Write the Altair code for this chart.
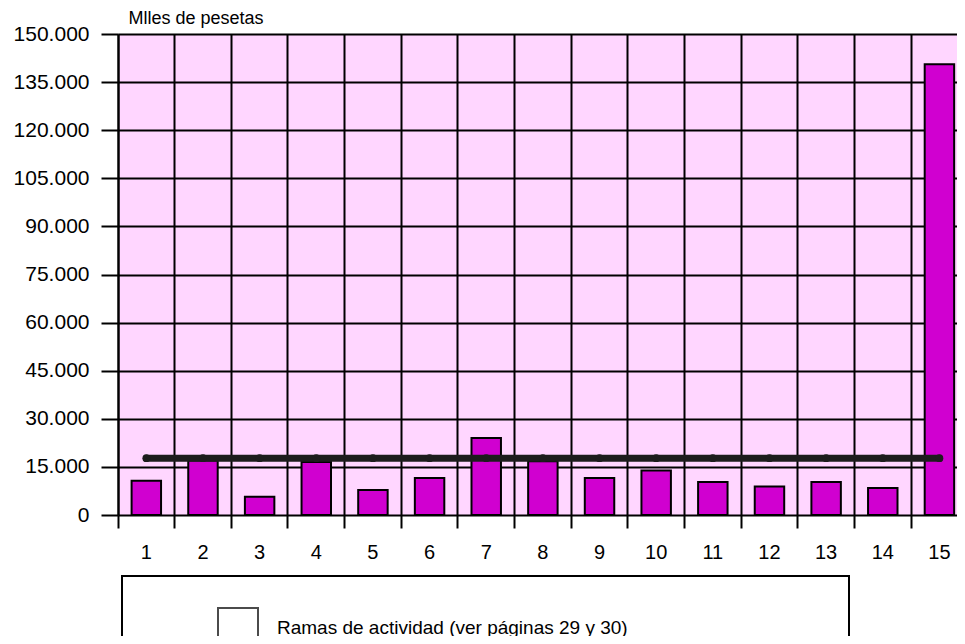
import altair as alt
import pandas as pd

categorias = [str(i) for i in range(1, 16)]
valores = [10700, 17000, 5700, 16500, 7800, 11500, 24000, 16800, 11500, 13900, 10300, 8900, 10300, 8400, 140600]
linea = [17700] * 15
serie = "Ramas de actividad (ver páginas 29 y 30)"

df = pd.DataFrame({"cat": categorias, "valor": valores, "linea": linea, "serie": [serie] * 15})

step = 56.65
W = 839
H = 481

x_enc = alt.X(
    "cat:N",
    sort=categorias,
    scale=alt.Scale(paddingInner=0, paddingOuter=0, range=[0, step * 15]),
    axis=alt.Axis(
        title=None,
        bandPosition=0,
        labelAngle=0,
        labelFontSize=20,
        labelFont="Liberation Sans",
        labelColor="black",
        labelPadding=14,
        tickSize=13,
        tickColor="black",
        tickWidth=2,
        grid=True,
        gridColor="black",
        gridWidth=2,
        domain=False,
    ),
)

y_scale = alt.Scale(domain=[0, 150000], nice=False, zero=True)
y_axis = alt.Axis(
    title="Mlles de pesetas",
    titleAngle=0,
    titleAlign="left",
    titleBaseline="alphabetic",
    titleX=10,
    titleY=-11,
    titleFontSize=18,
    titleFontWeight="normal",
    titleFont="Liberation Sans",
    titleColor="black",
    values=list(range(0, 150001, 15000)),
    labelExpr="replace(format(datum.value, ','), ',', '.')",
    labelFontSize=21,
    labelFont="Liberation Sans",
    labelColor="black",
    labelPadding=12,
    tickSize=17,
    tickColor="black",
    tickWidth=2,
    grid=True,
    gridColor="black",
    gridWidth=2,
    domain=True,
    domainColor="black",
    domainWidth=2,
)

base = alt.Chart(df).encode(x=x_enc)

bars = base.mark_bar(width={"band": 0.52}, fill="#d000d0", stroke="black", strokeWidth=2).encode(
    y=alt.Y("valor:Q", scale=y_scale, axis=y_axis),
)

legend_marks = base.mark_point(shape="square", filled=False, size=16, strokeWidth=1).encode(
    y=alt.Y("linea:Q", scale=y_scale),
    stroke=alt.Stroke(
        "serie:N",
        scale=alt.Scale(range=["black"]),
        legend=alt.Legend(
            title=" ",
            titleOrient="right",
            titlePadding=190,
            orient="none",
            legendX=4,
            legendY=542,
            strokeColor="black",
            fillColor="white",
            padding=31,
            symbolOffset=64,
            symbolType="square",
            symbolSize=1600,
            symbolStrokeColor="black",
            symbolStrokeWidth=2,
            labelFontSize=19,
            labelFont="Liberation Sans",
            labelColor="black",
            labelOffset=18,
            labelLimit=600,
        ),
    ),
)

line = base.mark_line(color="#1c1c1c", strokeWidth=7, strokeCap="round").encode(
    y=alt.Y("linea:Q", scale=y_scale)
)
pts = base.mark_point(color="#1c1c1c", filled=True, size=60, opacity=1).encode(
    y=alt.Y("linea:Q", scale=y_scale)
)

chart = (
    alt.layer(bars, legend_marks, line, pts)
    .properties(
        width=W,
        height=H,
        autosize=alt.AutoSizeParams(type="none"),
        padding={"left": 110, "top": 26, "right": 0, "bottom": 121},
    )
    .configure_view(fill="#ffd6ff", stroke=None)
    .configure_legend(strokeWidth=2)
)

chart.save("out.html", embed_options={"renderer": "svg", "actions": False})
